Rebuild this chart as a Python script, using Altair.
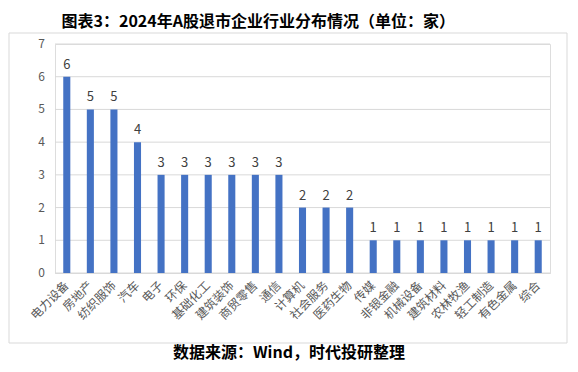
import altair as alt
import pandas as pd

categories = ["电力设备", "房地产", "纺织服饰", "汽车", "电子", "环保", "基础化工", "建筑装饰",
              "商贸零售", "通信", "计算机", "社会服务", "医药生物", "传媒", "非银金融", "机械设备",
              "建筑材料", "农林牧渔", "轻工制造", "有色金属", "综合"]
counts = [6, 5, 5, 4, 3, 3, 3, 3, 3, 3, 2, 2, 2, 1, 1, 1, 1, 1, 1, 1, 1]
y_ticks = [0, 1, 2, 3, 4, 5, 6, 7]
title_text = "图表3：2024年A股退市企业行业分布情况（单位：家）"
source_text = "数据来源：Wind，时代投研整理"

df = pd.DataFrame({"industry": categories, "count": counts})
ticks_df = pd.DataFrame({"v": y_ticks})

W, H = 495, 229
FONT = "Noto Sans CJK SC"

y_scale = alt.Scale(domain=[0, 7], nice=False)
x_enc = alt.X("industry:N", sort=categories, title=None,
              scale=alt.Scale(paddingInner=0.7, paddingOuter=0.35),
              axis=alt.Axis(labelAngle=-45, labelAlign="right", labelBaseline="middle",
                            labelPadding=10, ticks=False, domainColor="#d9d9d9",
                            labelColor="#595959", labelFontSize=12, labelFont=FONT,
                            labelOverlap=False, labelLimit=0, grid=False))

# gridlines and y labels drawn from y_ticks through the y scale
grid = alt.Chart(ticks_df).mark_rule(color="#d9d9d9", strokeWidth=1).encode(
    y=alt.Y("v:Q", scale=y_scale, axis=None),
    x=alt.value(0), x2=alt.value(W))
ylabels = alt.Chart(ticks_df).mark_text(
    align="right", baseline="middle", fontSize=12, color="#595959", font=FONT).encode(
    y=alt.Y("v:Q", scale=y_scale, axis=None), x=alt.value(-10), text="v:Q")

base = alt.Chart(df)
bars = base.mark_bar(color="#4472C4").encode(
    x=x_enc, y=alt.Y("count:Q", scale=y_scale, axis=None))
labels = base.mark_text(dy=-12, fontSize=13, color="#404040", font=FONT).encode(
    x=alt.X("industry:N", sort=categories),
    y=alt.Y("count:Q", scale=y_scale, axis=None), text="count:Q")

box = alt.Chart(pd.DataFrame({"a": [0]})).mark_rect(
    fill=None, stroke="#d9d9d9", strokeWidth=1, clip=False).encode(
    x=alt.value(-46), x2=alt.value(512), y=alt.value(-11), y2=alt.value(299))

source = alt.Chart(pd.DataFrame({"t": [source_text]})).mark_text(
    fontSize=16, fontWeight="bold", font=FONT, color="#000000", clip=False,
    baseline="middle", align="center").encode(
    x=alt.value(234), y=alt.value(309), text="t:N")

chart = alt.layer(box, grid, ylabels, bars, labels, source).properties(
    width=W, height=H,
    title=alt.TitleParams(title_text, anchor="start", frame="bounds", fontSize=16,
                          fontWeight="bold", font=FONT, color="#000000",
                          offset=3, dx=53),
    autosize=alt.AutoSizeParams(type="none"),
    padding={"left": 47, "top": 36, "right": 20, "bottom": 91},
).configure_view(stroke=None).configure(background="#ffffff")

chart.save("out.html", embed_options={"renderer": "svg", "actions": False})
